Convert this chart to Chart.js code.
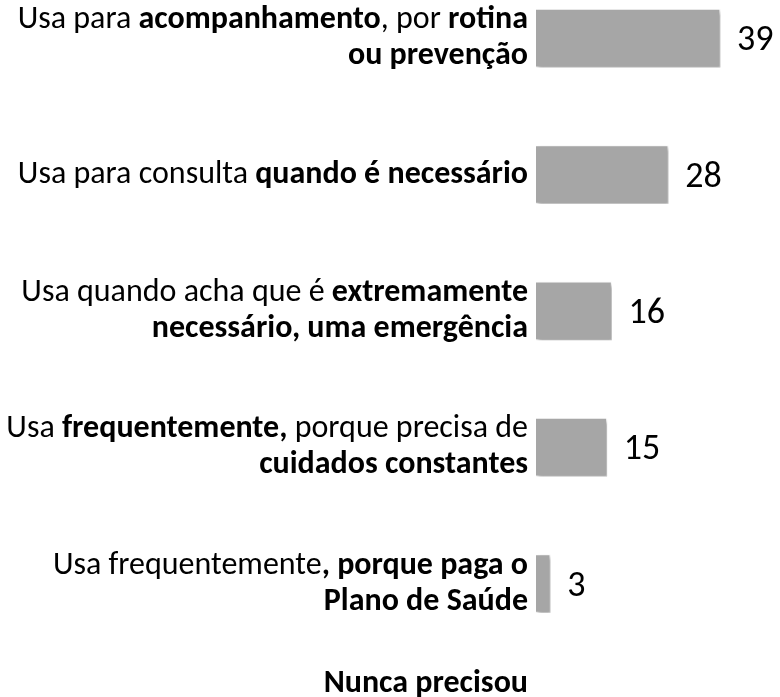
<!DOCTYPE html>
<html>
<head>
<meta charset="utf-8">
<script src="https://cdn.jsdelivr.net/npm/chart.js@4.4.1/dist/chart.umd.min.js"></script>
<style>
  html, body { margin: 0; padding: 0; background: #ffffff; }
  #wrap { position: relative; width: 780px; height: 697px; overflow: hidden; }
  #chart { position: absolute; left: 0; top: -30px; }
</style>
</head>
<body>
<div id="wrap"><canvas id="chart" width="780" height="818"></canvas></div>
<script>
// categorias (segmentos: [texto, negrito])
const categories = [
  [[["Usa para ", false], ["acompanhamento", true], [", por ", false], ["rotina", true]], [["ou prevenção", true]]],
  [[["Usa para consulta ", false], ["quando é necessário", true]]],
  [[["Usa quando acha que é ", false], ["extremamente", true]], [["necessário, uma emergência", true]]],
  [[["Usa ", false], ["frequentemente,", true], [" porque precisa de", false]], [["cuidados constantes", true]]],
  [[["Usa frequentemente", false], [", porque paga o", true]], [["Plano de Saúde", true]]],
  [[["Nunca precisou", true]], [], []]
];
const values = [39, 28, 16, 15, 3, 0];

const fontFamily = "Carlito, Lato, sans-serif";
const labelSize = 32;
const lineHeight = 36;
const labelRight = 528;

// rótulos com partes em negrito
const labelPlugin = {
  id: "mixedLabels",
  afterDraw(chart) {
    const ctx = chart.ctx;
    const yScale = chart.scales.y;
    ctx.save();
    ctx.fillStyle = "#000000";
    ctx.textBaseline = "middle";
    categories.forEach((lines, i) => {
      const yc = yScale.getPixelForValue(i);
      const top = yc - (lines.length - 1) * lineHeight / 2;
      lines.forEach((segs, j) => {
        let widths = segs.map(s => {
          ctx.font = (s[1] ? "bold " : "") + labelSize + "px " + fontFamily;
          return ctx.measureText(s[0]).width;
        });
        let x = labelRight - widths.reduce((a, b) => a + b, 0);
        segs.forEach((s, k) => {
          ctx.font = (s[1] ? "bold " : "") + labelSize + "px " + fontFamily;
          ctx.fillText(s[0], x, top + j * lineHeight);
          x += widths[k];
        });
      });
    });
    // valores
    const meta = chart.getDatasetMeta(0);
    ctx.font = "36px " + fontFamily;
    meta.data.forEach((bar, i) => {
      if (values[i] > 0) ctx.fillText(String(values[i]), bar.x + 17, bar.y + 3);
    });
    ctx.restore();
  }
};

const shadowPlugin = {
  id: "barShadow",
  beforeDatasetDraw(chart) {
    const ctx = chart.ctx;
    ctx.save();
    ctx.shadowColor = "rgba(0,0,0,0.35)";
    ctx.shadowBlur = 4;
    ctx.shadowOffsetX = 2;
    ctx.shadowOffsetY = 3;
  },
  afterDatasetDraw(chart) {
    chart.ctx.restore();
  }
};

const ctx = document.getElementById("chart").getContext("2d");

new Chart(ctx, {
  type: "bar",
  data: {
    labels: categories.map((c, i) => "c" + i),
    datasets: [
      {
        data: values,
        backgroundColor: "#a6a6a6",
        borderColor: "#ffffff",
        borderWidth: 1,
        barThickness: 58,
      },
    ],
  },
  options: {
    indexAxis: "y",
    responsive: false,
    animation: false,
    layout: { padding: { left: 536, right: 8, top: 0, bottom: 0 } },
    scales: {
      x: { display: false, min: 0, max: 50 },
      y: { display: false },
    },
    plugins: {
      legend: { display: false },
      tooltip: { enabled: false },
    },
  },
  plugins: [shadowPlugin, labelPlugin],
});
</script>
</body>
</html>
